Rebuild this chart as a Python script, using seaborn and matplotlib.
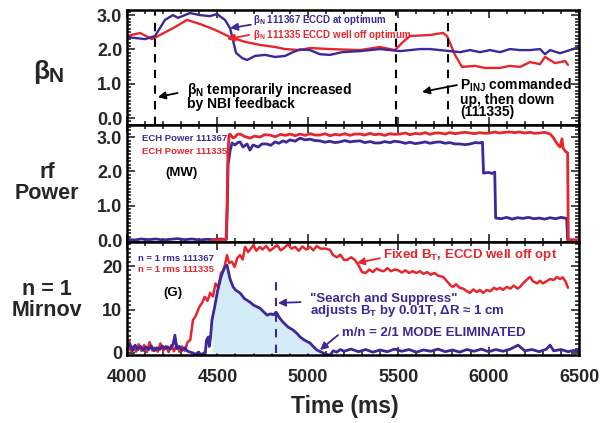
import matplotlib
matplotlib.use("Agg")
import matplotlib.pyplot as plt
import seaborn as sns
from matplotlib.ticker import MultipleLocator

# ---------------- data (time in ms) ----------------
BLUE = "#3c2896"
RED = "#e6262e"
FILL = "#d4ecf7"

beta_111367 = [(4000, 2.36), (4050, 2.33), (4100, 2.30), (4155, 2.39), (4210, 2.86), (4254, 3.00),
               (4282, 2.92), (4348, 3.06), (4404, 3.00), (4459, 2.97), (4498, 3.03), (4542, 2.86),
               (4570, 2.62), (4603, 1.90), (4636, 1.75), (4664, 1.69), (4708, 1.81), (4763, 1.84),
               (4819, 1.78), (4874, 1.81), (4918, 1.92), (4957, 2.00), (5012, 1.98), (5067, 1.86),
               (5123, 1.84), (5189, 1.92), (5289, 1.95), (5344, 1.98), (5399, 2.01), (5455, 1.98),
               (5510, 1.95), (5565, 1.98), (5621, 2.01), (5676, 2.01), (5731, 1.98), (5787, 1.95),
               (5842, 1.92), (5897, 1.98), (5952, 1.92), (6008, 1.98), (6063, 1.92), (6118, 2.01),
               (6174, 1.98), (6229, 1.98), (6284, 2.01), (6312, 1.86), (6340, 1.98), (6395, 1.89),
               (6450, 1.98), (6500, 2.07)]
beta_111335 = [(4000, 2.39), (4072, 2.48), (4138, 2.30), (4183, 2.42), (4265, 2.65), (4332, 2.86),
               (4404, 2.74), (4487, 2.57), (4570, 2.36), (4653, 2.22), (4736, 2.13), (4819, 2.07),
               (4874, 2.01), (4957, 1.98), (5012, 2.04), (5123, 2.01), (5289, 1.98), (5399, 2.07),
               (5482, 1.98), (5527, 2.22), (5565, 2.39), (5676, 2.42), (5748, 2.48), (5770, 2.39),
               (5814, 1.84), (5853, 1.49), (5925, 1.52), (5980, 1.46), (6063, 1.46), (6118, 1.52),
               (6174, 1.49), (6229, 1.63), (6284, 1.57), (6312, 1.78), (6367, 1.60), (6423, 1.66),
               (6439, 1.55)]

ech_111367 = [(4000, 0.02), (4040, 0.0), (4080, 0.03), (4120, 0.01), (4160, 0.03), (4200, 0.0),
              (4240, 0.02), (4280, 0.04), (4320, 0.01), (4360, 0.03), (4400, 0.0), (4440, 0.02),
              (4480, 0.01), (4520, 0.03), (4550, 0.02), (4556, 1.2), (4559, 2.19), (4570, 2.6),
              (4581, 2.83), (4597, 2.77), (4612, 2.84), (4625, 2.86), (4642, 2.71), (4664, 2.8),
              (4680, 2.62), (4697, 2.77), (4712, 2.74), (4725, 2.71), (4747, 2.8), (4774, 2.8),
              (4795, 2.76), (4819, 2.86), (4840, 2.82), (4863, 2.89), (4880, 2.85), (4902, 2.92),
              (4930, 2.88), (4957, 2.97), (4985, 2.92), (5012, 2.94), (5040, 2.9), (5067, 2.89),
              (5095, 2.85), (5120, 2.88), (5150, 2.84), (5178, 2.86), (5205, 2.9), (5233, 2.86),
              (5260, 2.88), (5289, 2.89), (5315, 2.84), (5345, 2.87), (5370, 2.83), (5399, 2.83),
              (5425, 2.87), (5455, 2.84), (5480, 2.88), (5510, 2.86), (5540, 2.82), (5565, 2.85),
              (5595, 2.81), (5621, 2.83), (5650, 2.86), (5675, 2.82), (5705, 2.85), (5731, 2.86),
              (5760, 2.82), (5785, 2.84), (5815, 2.8), (5842, 2.8), (5870, 2.78), (5897, 2.8),
              (5925, 2.84), (5952, 2.83), (5966, 2.85), (5972, 1.95), (6000, 1.97), (6020, 1.94),
              (6034, 1.98), (6039, 0.64), (6070, 0.62), (6100, 0.66), (6130, 0.61), (6160, 0.65),
              (6190, 0.63), (6220, 0.66), (6250, 0.62), (6280, 0.64), (6310, 0.61), (6340, 0.65),
              (6370, 0.62), (6400, 0.66), (6432, 0.63), (6437, 0.0), (6500, 0.0)]
ech_111335 = [(4470, 0.0), (4548, 0.02), (4553, 0.9), (4558, 2.5), (4564, 3.05), (4570, 3.09),
              (4585, 2.98), (4597, 3.0), (4610, 3.08), (4625, 3.09), (4650, 3.02), (4680, 2.97),
              (4705, 3.03), (4736, 3.0), (4760, 3.07), (4791, 3.06), (4820, 3.01), (4850, 3.08),
              (4875, 3.05), (4902, 3.09), (4930, 3.04), (4957, 3.09), (4985, 3.05), (5012, 3.1),
              (5040, 3.06), (5067, 3.06), (5095, 3.1), (5122, 3.04), (5150, 3.08), (5178, 3.06),
              (5205, 3.1), (5233, 3.05), (5260, 3.09), (5289, 3.09), (5315, 3.06), (5345, 3.11),
              (5370, 3.07), (5399, 3.09), (5425, 3.05), (5455, 3.1), (5480, 3.08), (5510, 3.09),
              (5540, 3.12), (5565, 3.07), (5595, 3.11), (5621, 3.09), (5650, 3.13), (5675, 3.08),
              (5705, 3.12), (5731, 3.12), (5760, 3.09), (5785, 3.13), (5815, 3.1), (5840, 3.12),
              (5870, 3.14), (5897, 3.12), (5925, 3.1), (5950, 3.13), (5980, 3.11), (6008, 3.12),
              (6035, 3.15), (6060, 3.12), (6090, 3.14), (6118, 3.15), (6145, 3.13), (6170, 3.15),
              (6200, 3.12), (6228, 3.14), (6255, 3.11), (6284, 3.12), (6310, 3.14), (6340, 3.09),
              (6356, 3.0), (6370, 2.88), (6384, 2.77), (6395, 2.71), (6406, 2.95), (6412, 2.68),
              (6420, 2.62), (6428, 2.57), (6437, 2.54), (6441, 0.0), (6490, 0.0)]

mirnov_111367 = [(4000, 1.0), (4015, 2.2), (4030, 0.5), (4045, 1.8), (4060, 0.8), (4075, 1.5),
                 (4090, 0.6), (4105, 1.4), (4120, 0.8), (4135, 1.6), (4150, 0.5), (4165, 1.2),
                 (4180, 0.8), (4195, 1.6), (4210, 1.0), (4225, 1.4), (4240, 0.9), (4255, 2.0),
                 (4265, 4.1), (4275, 1.0), (4290, 1.5), (4305, 0.6), (4320, 1.2), (4335, 0.4),
                 (4350, 0.2), (4365, 0.0), (4380, -0.3), (4395, 0.2), (4410, -0.4), (4425, 0.0),
                 (4432, -0.2), (4440, 3.0), (4450, 3.7), (4455, 1.5), (4462, 3.5), (4470, 7.6),
                 (4485, 10.6), (4502, 14.5), (4520, 17.5), (4537, 19.5), (4553, 20.2), (4570, 17.0),
                 (4587, 15.2), (4600, 14.5), (4625, 13.8), (4650, 12.5), (4680, 11.7), (4700, 11.0),
                 (4735, 10.3), (4755, 9.5), (4775, 8.7), (4795, 9.0), (4810, 8.8), (4824, 9.4),
                 (4845, 8.0), (4863, 7.1), (4890, 6.0), (4918, 5.3), (4940, 4.5), (4957, 3.7),
                 (4980, 3.0), (5012, 2.3), (5030, 1.5), (5050, 0.7), (5070, 0.3), (5100, -0.3),
                 (5123, -0.5), (5140, 0.5), (5160, 0.2), (5180, 0.8), (5200, 0.4), (5240, 0.9),
                 (5280, 0.3), (5320, 0.8), (5360, 0.2), (5400, 0.7), (5440, 0.3), (5480, 0.9),
                 (5520, 0.4), (5560, 0.8), (5600, 0.2), (5640, 0.7), (5680, 0.4), (5720, 0.9),
                 (5760, 0.3), (5800, 0.7), (5840, 0.2), (5880, 0.8), (5920, 0.4), (5960, 0.9),
                 (6000, 0.3), (6040, 0.8), (6080, 0.4), (6120, 0.9), (6163, 1.8), (6200, 0.5),
                 (6240, 0.8), (6280, 0.3), (6320, 0.9), (6340, 1.8), (6360, 0.5), (6400, 0.8),
                 (6440, 0.3), (6470, 0.6), (6500, 0.4)]
mirnov_111335 = [(4000, 0.2), (4010, 3.0), (4020, 0.5), (4035, 1.5), (4050, 0.3), (4065, 2.0),
                 (4080, 0.5), (4095, 1.8), (4110, 0.2), (4125, 2.5), (4140, 0.6), (4155, 1.2),
                 (4170, 0.3), (4185, 2.2), (4200, 0.5), (4215, 1.6), (4230, 0.2), (4245, 1.8),
                 (4260, 0.4), (4275, 2.0), (4290, 0.3), (4305, 1.5), (4320, 0.5), (4335, 2.5),
                 (4350, 3.0), (4365, 7.6), (4380, 8.5), (4400, 10.6), (4415, 11.5), (4430, 12.9),
                 (4445, 12.0), (4460, 13.8), (4475, 13.0), (4490, 16.0), (4505, 15.0), (4520, 18.4),
                 (4535, 19.0), (4553, 22.5), (4565, 20.7), (4580, 21.0), (4595, 19.8), (4610, 21.8),
                 (4625, 22.5), (4640, 21.5), (4653, 24.4), (4670, 23.2), (4685, 24.0), (4700, 24.8),
                 (4715, 23.5), (4735, 24.4), (4750, 23.8), (4770, 24.6), (4790, 23.5), (4810, 24.1),
                 (4830, 24.8), (4850, 23.6), (4870, 24.2), (4890, 25.0), (4910, 24.0), (4930, 24.4),
                 (4950, 23.5), (4970, 24.5), (4990, 23.8), (5012, 24.4), (5030, 23.6), (5050, 24.6),
                 (5070, 24.0), (5100, 24.0), (5123, 23.7), (5140, 22.5), (5161, 22.0), (5180, 22.6),
                 (5200, 21.4), (5217, 21.4), (5240, 22.0), (5260, 21.4), (5280, 20.2), (5300, 18.6),
                 (5320, 18.4), (5340, 19.2), (5360, 18.6), (5380, 19.4), (5400, 19.0), (5420, 18.8),
                 (5440, 19.5), (5460, 18.8), (5480, 19.2), (5500, 19.0), (5520, 18.5), (5540, 19.0),
                 (5560, 18.4), (5580, 18.8), (5600, 18.4), (5620, 18.8), (5640, 18.2), (5660, 18.6),
                 (5680, 18.0), (5700, 18.4), (5720, 17.8), (5748, 17.5), (5770, 16.5), (5790, 15.5),
                 (5803, 15.2), (5820, 15.8), (5840, 15.0), (5860, 14.8), (5880, 14.2), (5897, 13.8),
                 (5915, 14.6), (5935, 14.0), (5952, 14.5), (5970, 13.8), (5990, 14.5), (6010, 14.2),
                 (6030, 15.0), (6045, 14.6), (6063, 15.0), (6080, 14.5), (6100, 15.2), (6120, 14.8),
                 (6140, 15.5), (6160, 14.8), (6174, 15.2), (6190, 16.0), (6210, 16.8), (6229, 17.5),
                 (6245, 16.5), (6268, 16.0), (6285, 16.6), (6300, 16.0), (6320, 16.5), (6340, 17.0),
                 (6360, 16.8), (6378, 17.5), (6395, 17.0), (6410, 17.4), (6425, 16.5), (6439, 15.0)]

feedback_lines = [4155, 5490, 5775]   # dashed markers in top panel
search_time = 4824                    # search & suppress marker
search_top = 17.0
fill_window = (4465, 5070)

x_ticks = [4000, 4500, 5000, 5500, 6000, 6500]

# ---------------- style ----------------
sns.set_style("ticks")
plt.rcParams['font.family'] = ['Liberation Sans', 'DejaVu Sans']
plt.rcParams['font.weight'] = 'bold'
plt.rcParams['mathtext.fontset'] = 'custom'
plt.rcParams['mathtext.rm'] = 'Liberation Sans:bold'
plt.rcParams['mathtext.bf'] = 'Liberation Sans:bold'
plt.rcParams['mathtext.it'] = 'Liberation Sans:bold'
plt.rcParams['mathtext.default'] = 'bf'

W_PX, H_PX = 603, 423
fig = plt.figure(figsize=(W_PX / 100, H_PX / 100), dpi=100)
LEFT, RIGHT = 127, 579


def make_axes(top, bottom):
    return fig.add_axes([LEFT / W_PX, 1 - bottom / H_PX, (RIGHT - LEFT) / W_PX, (bottom - top) / H_PX])


ax1 = make_axes(10, 125)
ax2 = make_axes(125, 242)
ax3 = make_axes(242, 355)


def split(pairs):
    return [p[0] for p in pairs], [p[1] for p in pairs]


def line(ax, pairs, color, lw):
    x, y = split(pairs)
    sns.lineplot(x=x, y=y, ax=ax, color=color, lw=lw, estimator=None, sort=False)


# top panel
line(ax1, beta_111335, RED, 1.7)
line(ax1, beta_111367, BLUE, 1.7)
for t in feedback_lines:
    ax1.axvline(t, color='black', lw=1.5, ls=(0, (4, 3.5)))

# middle
line(ax2, ech_111367, BLUE, 2.0)
line(ax2, ech_111335, RED, 2.0)

# bottom
bx, by = split(mirnov_111367)
fx = [t for t in bx if fill_window[0] <= t <= fill_window[1]]
fy = [max(v, 0) for t, v in zip(bx, by) if fill_window[0] <= t <= fill_window[1]]
ax3.fill_between(fx, 0, fy, color=FILL, lw=0)
line(ax3, mirnov_111335, RED, 1.8)
line(ax3, mirnov_111367, BLUE, 2.0)
ax3.plot([search_time, search_time], [0, search_top], color=BLUE, lw=1.5, ls=(0, (4, 3.5)))

ax1.set_ylim(-0.204, 3.149)
ax2.set_ylim(-0.058, 3.353)
ax3.set_ylim(-0.46, 25.52)
for ax in (ax1, ax2):
    ax.yaxis.set_major_locator(MultipleLocator(1.0))
    ax.yaxis.set_minor_locator(MultipleLocator(0.1))
    ax.yaxis.set_major_formatter(matplotlib.ticker.FormatStrFormatter('%.1f'))
ax3.yaxis.set_major_locator(MultipleLocator(10))
ax3.yaxis.set_minor_locator(MultipleLocator(1))

for ax in (ax1, ax2, ax3):
    ax.set_xlim(4000, 6500)
    ax.set_xticks(x_ticks)
    ax.xaxis.set_minor_locator(MultipleLocator(100))
    ax.tick_params(which='both', direction='in', top=True, right=True, width=1.2)
    ax.tick_params(which='major', length=6, labelsize=13)
    ax.tick_params(which='minor', length=3)
    for s in ax.spines.values():
        s.set_linewidth(1.8)
        s.set_color('black')
    ax.set_xlabel('')
    ax.set_ylabel('')
    for lab in ax.get_yticklabels():
        lab.set_fontweight('bold')
for ax in (ax1, ax2):
    ax.tick_params(labelbottom=False)
for lab in ax3.get_xticklabels():
    lab.set_fontweight('bold')
ax3.tick_params(axis='x', pad=10)


def ftext(x, y, s, **kw):
    fig.text(x / W_PX, 1 - y / H_PX, s, **kw)


def arrow(ax, head, tail, color):
    ax.annotate("", xy=head, xytext=tail,
                arrowprops=dict(arrowstyle='-|>', color=color, lw=1.3, mutation_scale=11,
                                shrinkA=0, shrinkB=0))


# row labels
ftext(41, 72, "β", fontsize=19, ha='center', va='center', fontweight='bold')
ftext(56, 77, "N", fontsize=15, ha='center', va='center', fontweight='bold')
ftext(47, 183, "rf\nPower", fontsize=15.5, ha='center', va='center', fontweight='bold', linespacing=0.95)
ftext(47, 300, "n = 1\nMirnov", fontsize=15.5, ha='center', va='center', fontweight='bold', linespacing=0.95)
ftext(345, 406, "Time (ms)", fontsize=16.5, ha='center', va='center', fontweight='bold')

# top annotations
ax1.text(4697, 2.86, "β$_{\\mathbf{N}}$ 111367 ECCD at optimum", color=BLUE, fontsize=7, va='center', ha='left')
ax1.text(4697, 2.42, "β$_{\\mathbf{N}}$ 111335 ECCD well off optimum", color=RED, fontsize=7, va='center', ha='left')
arrow(ax1, (4570, 2.62), (4685, 2.72), BLUE)
arrow(ax1, (4553, 2.30), (4675, 2.42), RED)
ax1.text(4330, 0.64, "β$_{\\mathbf{N}}$ temporarily increased\nby NBI feedback", color='black', fontsize=10,
         va='center', ha='left', linespacing=0.85)
arrow(ax1, (4171, 0.61), (4280, 0.73), 'black')
ax1.text(5842, 0.58, "P$_{\\mathbf{INJ}}$ commanded\nup, then down\n(111335)", color='black', fontsize=10,
         va='center', ha='left', linespacing=0.85)
arrow(ax1, (5632, 0.76), (5825, 0.96), 'black')

# middle annotations
ax2.text(4083, 2.97, "ECH Power 111367", color=BLUE, fontsize=6.8, va='center', ha='left')
ax2.text(4083, 2.57, "ECH Power 111335", color=RED, fontsize=6.8, va='center', ha='left')
ax2.text(4304, 1.95, "(MW)", color='black', fontsize=9.5, va='center', ha='center')

# bottom annotations
ax3.text(4061, 21.8, "n = 1 rms 111367", color=BLUE, fontsize=6.8, va='center', ha='left')
ax3.text(4061, 19.1, "n = 1 rms 111335", color=RED, fontsize=6.8, va='center', ha='left')
ax3.text(4254, 13.8, "(G)", color='black', fontsize=9.5, va='center', ha='center')
ax3.text(5416, 22.5, "Fixed B$_{\\mathbf{T}}$, ECCD well off opt", color=RED, fontsize=9.5, va='center', ha='left')
arrow(ax3, (5272, 20.7), (5399, 21.8), RED)
ax3.text(5012, 10.8, "\"Search and Suppress\"\nadjusts B$_{\\mathbf{T}}$ by 0.01T, ΔR ≈ 1 cm", color=BLUE,
         fontsize=9.5, va='center', ha='left', linespacing=0.9)
arrow(ax3, (4835, 11.5), (4960, 11.7), BLUE)
ax3.text(5189, 4.6, "m/n = 2/1 MODE ELIMINATED", color=BLUE, fontsize=9.5, va='center', ha='left')
arrow(ax3, (5067, 0.7), (5167, 4.1), BLUE)

fig.savefig("out.png", dpi=100)
